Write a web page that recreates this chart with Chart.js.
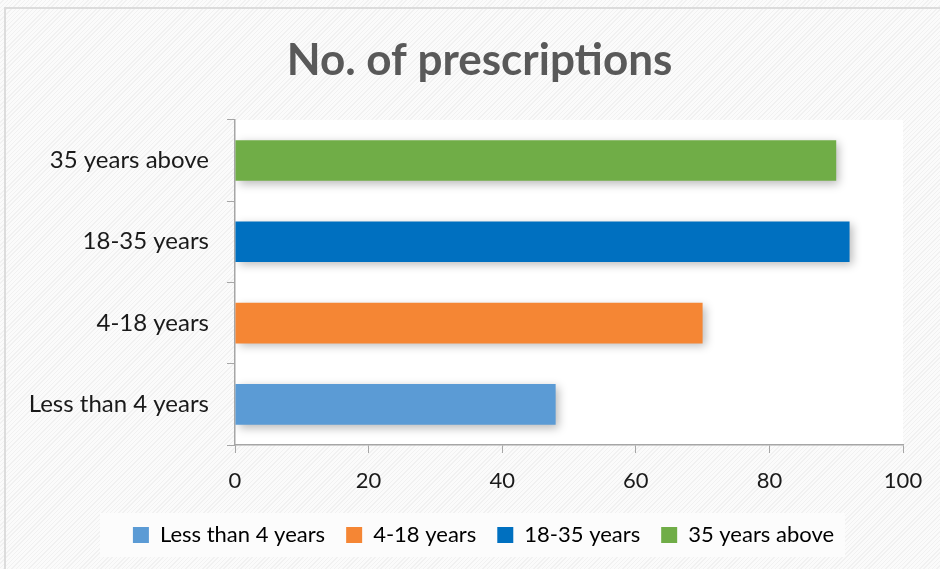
<!DOCTYPE html>
<html lang="en">
<head>
  <meta charset="UTF-8">
  <title>No. of prescriptions</title>
  <script src="https://cdn.jsdelivr.net/npm/chart.js"></script>
  <style>
    html, body {margin: 0; padding: 0; background: #fff;}
    .frame {position: relative; width: 940px; height: 569px; overflow: hidden;
      background: repeating-linear-gradient(135deg, #fbfbfb 0px, #fbfbfb 2px, #f1f1f1 2px, #f1f1f1 3px);}
    .edge {position: absolute; left: 4px; top: 7px; right: -4px; bottom: -4px; border-left: 2px solid #dcdcdc; border-top: 2px solid #dcdcdc;}
    canvas {position: absolute; left: 0; top: 0;}
  </style>
</head>
<body>
  <div class="frame">
    <div class="edge"></div>
    <canvas id="barChart" width="940" height="569"></canvas>
  </div>
  <script>
    const ageGroups = ['Less than 4 years', '4-18 years', '18-35 years', '35 years above'];
    const prescriptions = [48, 70, 92, 90];
    const barColors = ['#5b9bd5', '#f58634', '#0070c0', '#70ad47'];
    const xTicks = [0, 20, 40, 60, 80, 100];

    const FONT = 'Lato, "Open Sans", sans-serif';

    // white panels behind the plot and the legend, soft shadow under the bars
    const panels = {
      id: 'panels',
      afterLayout(chart) {
        // title and legend sit a little right of the canvas centre
        chart.titleBlock.left += 28;
        chart.titleBlock.right += 28;
        chart.legend.left += 32;
        chart.legend.right += 32;
      },
      beforeDraw(chart) {
        const {ctx, chartArea: a} = chart;
        ctx.save();
        ctx.fillStyle = '#ffffff';
        ctx.fillRect(a.left, a.top, a.right - a.left, a.bottom - a.top);
        ctx.fillStyle = '#fcfcfc';
        ctx.fillRect(100, 513, 745, 44);
        ctx.restore();
      },
      beforeDatasetsDraw(chart) {
        const ctx = chart.ctx;
        ctx.save();
        ctx.shadowColor = 'rgba(0,0,0,0.28)';
        ctx.shadowBlur = 9;
        ctx.shadowOffsetX = 3;
        ctx.shadowOffsetY = 3;
      },
      afterDatasetsDraw(chart) {
        chart.ctx.restore();
      }
    };

    new Chart(document.getElementById('barChart'), {
      type: 'bar',
      data: {
        labels: ageGroups,
        datasets: [{
          label: 'No. of prescriptions',
          data: prescriptions,
          backgroundColor: barColors,
          borderWidth: 0,
          barPercentage: 0.5,
          categoryPercentage: 1
        }]
      },
      options: {
        indexAxis: 'y',
        responsive: false,
        animation: false,
        layout: {padding: {left: 0, right: 37, top: 0, bottom: 13}},
        scales: {
          x: {
            min: 0, max: 100,
            afterBuildTicks(scale) { scale.ticks = xTicks.map(v => ({value: v})); },
            grid: {drawOnChartArea: false, tickLength: 8, color: '#a6a6a6'},
            border: {color: '#a6a6a6', width: 1.5},
            ticks: {color: '#1a1a1a', font: {family: FONT, size: 22}, padding: 15},
            afterFit(scale) { scale.height = 58; }
          },
          y: {
            reverse: true,
            grid: {drawOnChartArea: false, tickLength: 8, color: '#a6a6a6', offset: true},
            border: {color: '#a6a6a6', width: 1.5},
            ticks: {color: '#1a1a1a', font: {family: FONT, size: 24}, padding: 18},
            afterFit(scale) { scale.width = 235; }
          }
        },
        plugins: {
          title: {
            display: true,
            text: 'No. of prescriptions',
            color: '#595959',
            font: {family: FONT, size: 44, weight: 'bold'},
            padding: {top: 34, bottom: 33}
          },
          legend: {
            position: 'bottom',
            maxHeight: 60,
            labels: {
              color: '#595959',
              font: {family: FONT, size: 22},
              boxWidth: 16,
              boxHeight: 16,
              padding: 21,
              generateLabels: () => ageGroups.map((g, i) => ({
                text: g, fillStyle: barColors[i], strokeStyle: barColors[i], lineWidth: 0, hidden: false, index: i
              }))
            }
          },
          tooltip: {enabled: false}
        }
      },
      plugins: [panels]
    });
  </script>
</body>
</html>
